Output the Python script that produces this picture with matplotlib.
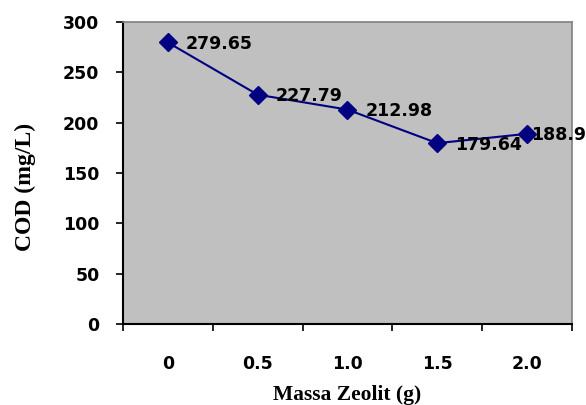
import numpy as np
import matplotlib.pyplot as plt

# COD after treatment with different zeolite masses
massa = ['0', '0.5', '1.0', '1.5', '2.0']
cod = [279.65, 227.79, 212.98, 179.64, 188.9]

fig = plt.figure(figsize=(5.86, 4.05), dpi=100)
ax = fig.add_axes([0.2099, 0.2, 0.766, 0.7457])
ax.set_facecolor('#C0C0C0')

x = np.arange(len(massa))
ax.plot(x, cod, color='#000080', lw=1.5, marker='D', ms=9, zorder=3)

# value labels to the right of each point
label_dx = [13, 13, 13, 13, 3]
for xi, yi, dx in zip(x, cod, label_dx):
    ax.annotate(f'{yi:g}', (xi, yi), xytext=(dx, -1), textcoords='offset points',
                ha='left', va='center', fontsize=12.5, fontweight='bold',
                annotation_clip=False, zorder=4)

ax.set_xlim(-0.5, len(massa) - 0.5)
ax.set_ylim(0, 300)
ax.set_yticks(np.arange(0, 301, 50))

# category axis: ticks between categories, labels at centres
ax.set_xticks(np.arange(-0.5, len(massa), 1.0))
ax.set_xticklabels([])
ax.set_xticks(x, minor=True)
ax.set_xticklabels(massa, minor=True)
ax.tick_params(axis='x', which='minor', length=0, pad=22)
ax.tick_params(axis='x', which='major', length=5, width=1.2, direction='out')
ax.tick_params(axis='y', length=5, width=1.2, direction='out', pad=12)

for lab in ax.get_yticklabels() + ax.get_xticklabels(minor=True):
    lab.set_fontsize(12.5)
    lab.set_fontweight('bold')

for side in ['top', 'right']:
    ax.spines[side].set_color('#808080')
    ax.spines[side].set_linewidth(1.2)
for side in ['left', 'bottom']:
    ax.spines[side].set_color('black')
    ax.spines[side].set_linewidth(1.5)

ax.set_xlabel('Massa Zeolit (g)', family='Liberation Serif', fontweight='bold',
              fontsize=15.5, labelpad=9)
ax.set_ylabel('COD (mg/L)', family='Liberation Serif', fontweight='bold',
              fontsize=17)
ax.yaxis.set_label_coords(-0.193, 0.454)

fig.savefig('out.png', dpi=100)
